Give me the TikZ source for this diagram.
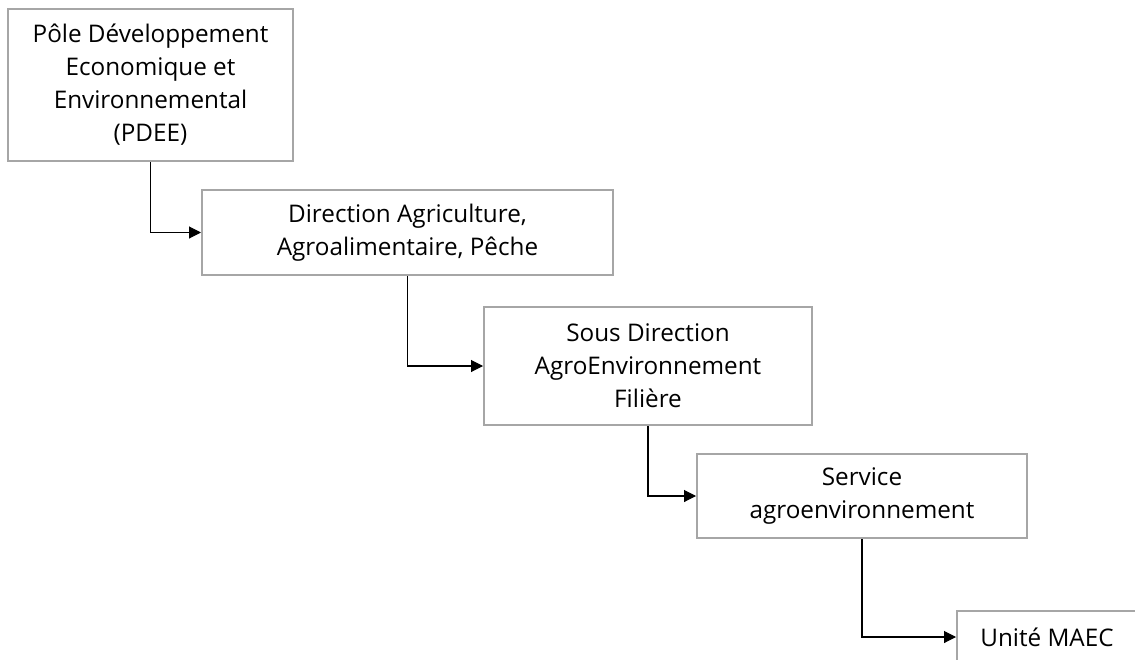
\documentclass[tikz,border=0pt]{standalone}
\usepackage{fontspec}
\setmainfont{Open Sans}
\usetikzlibrary{arrows.meta}
\definecolor{boxgray}{HTML}{A6A6A6}
\tikzset{
  orgbox/.style={draw=boxgray, line width=1.5pt, fill=white, align=center, inner sep=0pt,
    font=\fontsize{18.2}{24.8}\selectfont},
  link/.style={draw=black, line width=0.8pt, -{Triangle[length=9pt,width=9pt]}}
}
\begin{document}
\begin{tikzpicture}[x=0.75pt,y=-0.75pt]
\useasboundingbox (0,0) rectangle (1135,660);
\fill[white] (0,0) rectangle (1135,660);
\clip (0,0) rectangle (1135,660);
\node[orgbox, minimum width=285*0.75pt, minimum height=152*0.75pt] (b1) at (150.5,85)
  {Pôle Développement\\Economique et\\Environnemental\\(PDEE)};
\node[orgbox, minimum width=411*0.75pt, minimum height=85*0.75pt] (b2) at (407.5,232.5)
  {Direction Agriculture,\\Agroalimentaire, Pêche};
\node[orgbox, minimum width=328*0.75pt, minimum height=118*0.75pt] (b3) at (648,366)
  {Sous Direction\\AgroEnvironnement\\Filière};
\node[orgbox, minimum width=330*0.75pt, minimum height=84*0.75pt] (b4) at (862,496)
  {Service\\agroenvironnement};
\node[orgbox, minimum width=180*0.75pt, minimum height=52*0.75pt] (b5) at (1047,637)
  {Unité MAEC};
\draw[link] (b1.south) |- (b2.west);
\draw[link] (b2.south) |- (b3.west);
\draw[link] (b3.south) |- (b4.west);
\draw[link] (b4.south) |- (b5.west);
\end{tikzpicture}
\end{document}
